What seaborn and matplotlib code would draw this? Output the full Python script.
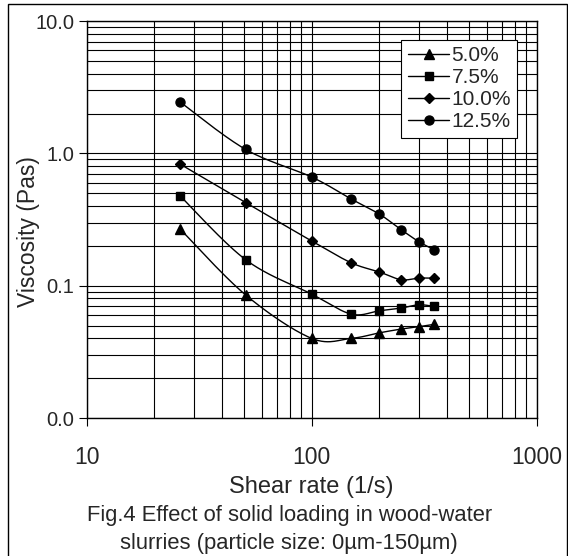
import numpy as np
import pandas as pd
import seaborn as sns
import matplotlib.pyplot as plt
from matplotlib.lines import Line2D
from matplotlib.patches import Rectangle
from matplotlib.ticker import FixedLocator, FuncFormatter, LogLocator, NullFormatter

# data
shear_rate = [26, 51, 100, 150, 200, 250, 300, 350]
visc_5_0 = [0.269, 0.085, 0.040, 0.040, 0.044, 0.047, 0.049, 0.051]
visc_7_5 = [0.479, 0.157, 0.0865, 0.061, 0.0646, 0.0677, 0.0717, 0.0697]
visc_10_0 = [0.831, 0.424, 0.218, 0.149, 0.127, 0.111, 0.114, 0.114]
visc_12_5 = [2.45, 1.07, 0.663, 0.452, 0.348, 0.265, 0.215, 0.187]
series_labels = ["5.0%", "7.5%", "10.0%", "12.5%"]
x_ticks = [10, 100, 1000]
y_ticks = [0.01, 0.1, 1, 10]

sns.set_theme(style="ticks")
plt.rcParams['font.family'] = ['Liberation Sans', 'DejaVu Sans']

fig = plt.figure(figsize=(5.68, 5.56), dpi=100)
ax = fig.add_axes([0.1523, 0.2482, 0.7923, 0.714])


def excel_smooth(x, y, sx=225.0, sy=132.0, n=30):
    # bezier smoothing like excel, done in screen-ish log space
    px = np.log10(x) * sx
    py = np.log10(y) * sy
    P = np.column_stack([px, py])
    out = []
    for i in range(len(P) - 1):
        p0 = P[i - 1] if i > 0 else P[i]
        p3 = P[i + 2] if i + 2 < len(P) else P[i + 1]
        c1 = P[i] + (P[i + 1] - p0) / 6
        c2 = P[i + 1] - (p3 - P[i]) / 6
        t = np.linspace(0, 1, n)[:, None]
        seg = ((1 - t) ** 3 * P[i] + 3 * (1 - t) ** 2 * t * c1
               + 3 * (1 - t) * t ** 2 * c2 + t ** 3 * P[i + 1])
        out.append(seg if i == 0 else seg[1:])
    out = np.vstack(out)
    return 10 ** (out[:, 0] / sx), 10 ** (out[:, 1] / sy)


series = [visc_5_0, visc_7_5, visc_10_0, visc_12_5]
markers = ["^", "s", "D", "o"]
msizes = [7, 6, 5, 6.5]

handles = []
for vals, lab, mk, ms in zip(series, series_labels, markers, msizes):
    sx_, sy_ = excel_smooth(np.array(shear_rate, float), np.array(vals, float))
    curve = pd.DataFrame({"x": sx_, "y": sy_})
    sns.lineplot(data=curve, x="x", y="y", sort=False, estimator=None,
                 color="black", lw=1, ax=ax, zorder=3)
    pts = pd.DataFrame({"x": shear_rate, "y": vals})
    ax.plot(pts["x"], pts["y"], ls="none", marker=mk, ms=ms, color="black",
            zorder=4, clip_on=False)
    handles.append(Line2D([], [], color="black", lw=1, marker=mk, ms=ms))

ax.set_xscale("log")
ax.set_yscale("log")
ax.set_xlim(10, 1000)
ax.set_ylim(0.01, 10)

ax.xaxis.set_major_locator(FixedLocator(x_ticks))
ax.yaxis.set_major_locator(FixedLocator(y_ticks))
ax.xaxis.set_minor_locator(LogLocator(base=10, subs=np.arange(2, 10)))
ax.yaxis.set_minor_locator(LogLocator(base=10, subs=np.arange(2, 10)))
ax.xaxis.set_major_formatter(FuncFormatter(lambda v, p: "%d" % v))
ax.yaxis.set_major_formatter(FuncFormatter(lambda v, p: "%.1f" % v))
ax.xaxis.set_minor_formatter(NullFormatter())
ax.yaxis.set_minor_formatter(NullFormatter())

ax.grid(which="both", color="black", lw=0.8)
ax.tick_params(which="major", direction="out", length=6, width=0.8, color="black")
ax.tick_params(which="minor", length=0)
ax.tick_params(axis="x", labelsize=16.5, pad=14)
ax.tick_params(axis="y", labelsize=14.5, pad=3)
for sp in ax.spines.values():
    sp.set_color("black")
    sp.set_linewidth(1)

ax.set_xlabel("Shear rate (1/s)", fontsize=17, labelpad=5)
ax.set_ylabel("Viscosity (Pas)", fontsize=16.5)
ax.yaxis.set_label_coords(-0.103, 0.47)

leg = ax.legend(handles, series_labels, loc="upper right",
                bbox_to_anchor=(0.957, 0.953), fontsize=15, frameon=True,
                fancybox=False, edgecolor="black", framealpha=1,
                handlelength=2.0, handletextpad=0.1, labelspacing=0.15,
                borderpad=0.3, borderaxespad=0)
leg.get_frame().set_linewidth(0.8)

fig.text(0.509, 0.0737, "Fig.4 Effect of solid loading in wood-water",
         ha="center", va="center", fontsize=15.8)
fig.text(0.509, 0.0216, "slurries (particle size: 0µm-150µm)",
         ha="center", va="center", fontsize=15.8)

fig.add_artist(Rectangle((8 / 568, -0.02), 559 / 568, 1.02 - 4 / 556,
                         transform=fig.transFigure, fill=False,
                         edgecolor="black", lw=1))

fig.savefig("out.png", dpi=100)
